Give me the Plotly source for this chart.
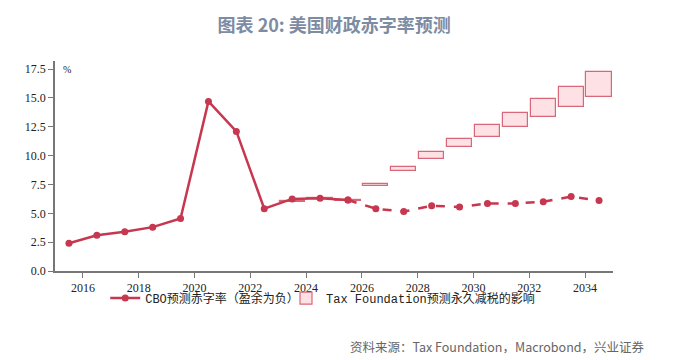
import plotly.graph_objects as go

years = list(range(2015, 2035))
cbo = [2.4, 3.1, 3.4, 3.8, 4.55, 14.7, 12.1, 5.4, 6.25, 6.3, 6.15,
       5.4, 5.15, 5.65, 5.55, 5.85, 5.85, 6.0, 6.45, 6.1]
tf_years = list(range(2023, 2035))
tf_low = [6.0, 6.25, 6.05, 7.33, 8.64, 9.73, 10.72, 11.58, 12.47, 13.37, 14.23, 15.10]
tf_high = [6.08, 6.33, 6.13, 7.51, 9.01, 10.28, 11.44, 12.62, 13.71, 14.87, 15.94, 17.21]
x_ticks = list(range(2016, 2035, 2))
y_ticks = [0, 2.5, 5, 7.5, 10, 12.5, 15, 17.5]

red = "#c7374f"
fig = go.Figure()

xm = [y + 0.5 for y in years]
txm = [y + 0.5 for y in tf_years]

split = years.index(2025)
fig.add_trace(go.Scatter(
    x=xm[:split + 1], y=cbo[:split + 1], mode="lines+markers",
    line=dict(color=red, width=2.5), marker=dict(size=7, color=red),
    name="CBO预测赤字率（盈余为负）", legendgroup="cbo", showlegend=True, legend="legend",
))
fig.add_trace(go.Scatter(
    x=xm[split:], y=cbo[split:], mode="lines+markers",
    line=dict(color=red, width=2.5, dash="dash"), marker=dict(size=7, color=red),
    name="CBO预测赤字率（盈余为负）", legendgroup="cbo", showlegend=False, legend="legend",
))
fig.add_trace(go.Bar(
    x=txm, base=tf_low, y=[h - l for h, l in zip(tf_high, tf_low)],
    width=0.9, marker=dict(color="#fde1e5", line=dict(color="#d9677a", width=1.2)),
    name="Tax Foundation预测永久减税的影响", showlegend=True, legend="legend2",
))

legend_font = dict(family="Liberation Mono, Noto Sans CJK SC", size=12, color="#222")
fig.update_layout(
    width=682, height=360,
    margin=dict(l=55, r=69, t=61, b=89, autoexpand=False),
    paper_bgcolor="white", plot_bgcolor="white",
    title=dict(text="<b>图表 20: 美国财政赤字率预测</b>", x=0.49, xanchor="center", y=0.93, yanchor="middle",
               font=dict(family="Noto Sans CJK SC", size=18, color="#7d8ba3")),
    showlegend=True,
    legend=dict(orientation="h", x=0.09, xanchor="left", y=-0.06, yanchor="top",
                font=legend_font, bgcolor="rgba(0,0,0,0)", itemwidth=30),
    legend2=dict(orientation="h", x=(286 - 55) / 558, xanchor="left", y=-0.06, yanchor="top",
                 font=legend_font, bgcolor="rgba(0,0,0,0)", itemwidth=30),
    xaxis=dict(range=[2015, 2035], tickvals=x_ticks, ticktext=[str(v) for v in x_ticks],
               showgrid=False, zeroline=False, showline=True, linecolor="#777", linewidth=1.5,
               ticks="outside", ticklen=5, tickcolor="#777", automargin=False,
               tickfont=dict(family="Liberation Serif", size=12, color="#222")),
    yaxis=dict(range=[0, 18.2], tickvals=y_ticks, ticktext=[f"{v:.1f}" for v in y_ticks],
               showgrid=False, zeroline=False, showline=True, linecolor="#777", linewidth=1.5,
               ticks="outside", ticklen=5, tickcolor="#777", automargin=False,
               tickfont=dict(family="Liberation Serif", size=12, color="#222")),
    bargap=0,
)
fig.add_annotation(text="%", xref="paper", yref="y", x=0.01, y=17.5, xanchor="left", yanchor="middle",
                   showarrow=False, font=dict(family="Liberation Serif", size=10, color="#222"))
fig.add_annotation(text="资料来源：Tax Foundation，Macrobond，兴业证券", xref="paper", yref="paper",
                   x=(348 - 55) / 558, y=-(346 - 271) / 210, xanchor="left", yanchor="middle",
                   showarrow=False, font=dict(family="Noto Sans CJK SC", size=12.5, color="#666"))

fig.write_html("out.html", config={"displayModeBar": False},
               post_script="document.body.style.margin='0';document.body.style.overflow='hidden';")
